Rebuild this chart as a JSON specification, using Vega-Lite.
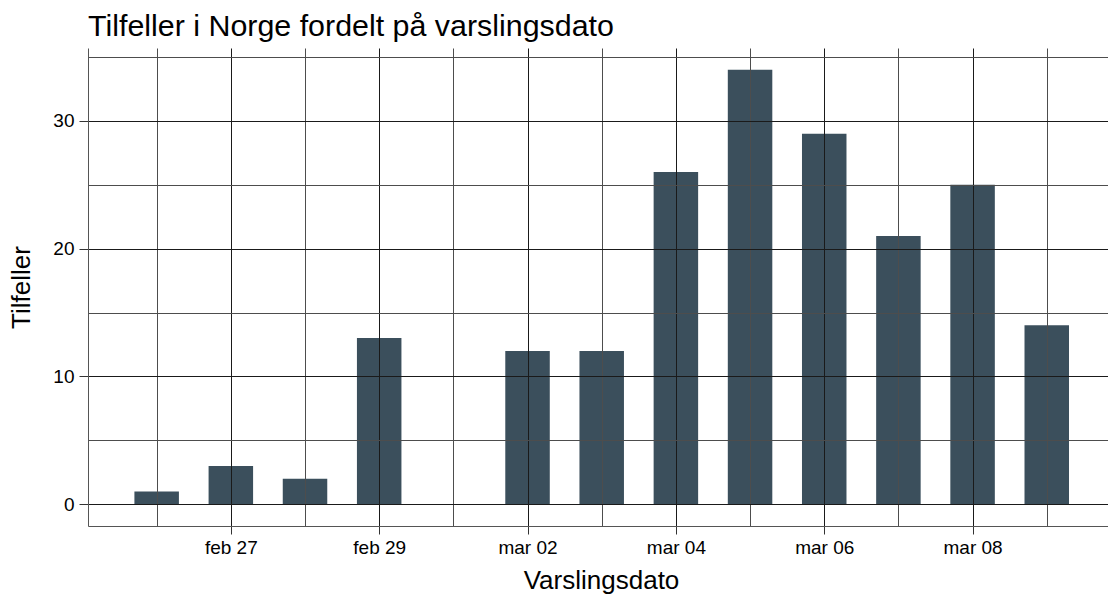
{
  "$schema": "https://vega.github.io/schema/vega-lite/v6.json",
  "width": 1020,
  "height": 478,
  "autosize": {"type": "none"},
  "padding": {"left": 88, "top": 48, "right": 0, "bottom": 70},
  "background": "white",
  "title": {
    "text": "Tilfeller i Norge fordelt på varslingsdato",
    "anchor": "start",
    "frame": "group",
    "offset": 6,
    "fontSize": 30.4,
    "fontWeight": "normal",
    "font": "Liberation Sans",
    "color": "#000000"
  },
  "data": {
    "values": [
      {"date": "2020-02-26", "cases": 1},
      {"date": "2020-02-27", "cases": 3},
      {"date": "2020-02-28", "cases": 2},
      {"date": "2020-02-29", "cases": 13},
      {"date": "2020-03-02", "cases": 12},
      {"date": "2020-03-03", "cases": 12},
      {"date": "2020-03-04", "cases": 26},
      {"date": "2020-03-05", "cases": 34},
      {"date": "2020-03-06", "cases": 29},
      {"date": "2020-03-07", "cases": 21},
      {"date": "2020-03-08", "cases": 25},
      {"date": "2020-03-09", "cases": 14}
    ]
  },
  "mark": {"type": "bar", "size": 44.5, "color": "#3B4F5C"},
  "encoding": {
    "x": {
      "field": "date",
      "type": "temporal",
      "title": "Varslingsdato",
      "scale": {
        "type": "utc",
        "padding": 0,
        "domain": [
          {"year": 2020, "month": 2, "date": 25, "hours": 1, "minutes": 47, "utc": true},
          {"year": 2020, "month": 3, "date": 9, "hours": 19, "minutes": 49, "utc": true}
        ]
      },
      "axis": {
        "values": [
          {"year": 2020, "month": 2, "date": 26, "utc": true},
          {"year": 2020, "month": 2, "date": 27, "utc": true},
          {"year": 2020, "month": 2, "date": 28, "utc": true},
          {"year": 2020, "month": 2, "date": 29, "utc": true},
          {"year": 2020, "month": 3, "date": 1, "utc": true},
          {"year": 2020, "month": 3, "date": 2, "utc": true},
          {"year": 2020, "month": 3, "date": 3, "utc": true},
          {"year": 2020, "month": 3, "date": 4, "utc": true},
          {"year": 2020, "month": 3, "date": 5, "utc": true},
          {"year": 2020, "month": 3, "date": 6, "utc": true},
          {"year": 2020, "month": 3, "date": 7, "utc": true},
          {"year": 2020, "month": 3, "date": 8, "utc": true},
          {"year": 2020, "month": 3, "date": 9, "utc": true}
        ],
        "labelExpr": "round((datum.value - 1582675200000) / 86400000) % 2 == 1 ? lower(utcFormat(datum.value, '%b %d')) : ''",
        "grid": true,
        "gridColor": {"condition": {"test": "round((datum.value - 1582675200000) / 86400000) % 2 == 1", "value": "#1a1a1a"}, "value": "#4d4d4d"},
        "gridWidth": 1,
        "tickOpacity": {"condition": {"test": "round((datum.value - 1582675200000) / 86400000) % 2 == 1", "value": 1}, "value": 0},
        "tickColor": "#333333",
        "tickSize": 8,
        "labelPadding": 4,
        "labelFontSize": 19,
        "labelColor": "#000000",
        "labelFont": "Liberation Sans",
        "labelFlush": false,
        "labelOverlap": false,
        "labelAlign": "center",
        "domainColor": "#555555",
        "titleFontSize": 26,
        "titleFontWeight": "normal",
        "titleFont": "Liberation Sans",
        "titleColor": "#000000",
        "titlePadding": 10,
        "titleX": 513,
        "zindex": 1
      }
    },
    "y": {
      "field": "cases",
      "type": "quantitative",
      "title": "Tilfeller",
      "scale": {"domain": [-1.7, 35.7], "nice": false, "zero": false, "padding": 0},
      "axis": {
        "values": [0, 5, 10, 15, 20, 25, 30, 35],
        "labelExpr": "datum.value % 10 == 0 ? datum.label : ''",
        "grid": true,
        "gridColor": {"condition": {"test": "datum.value % 10 == 0", "value": "#1a1a1a"}, "value": "#4d4d4d"},
        "gridWidth": 1,
        "tickOpacity": {"condition": {"test": "datum.value % 10 == 0", "value": 1}, "value": 0},
        "tickColor": "#333333",
        "tickSize": 9,
        "labelPadding": 5,
        "labelFontSize": 19,
        "labelColor": "#000000",
        "labelFont": "Liberation Sans",
        "domainColor": "#555555",
        "titleFontSize": 26,
        "titleFontWeight": "normal",
        "titleFont": "Liberation Sans",
        "titleColor": "#000000",
        "titlePadding": 18,
        "zindex": 1
      }
    }
  },
  "config": {
    "view": {"stroke": null}
  }
}
